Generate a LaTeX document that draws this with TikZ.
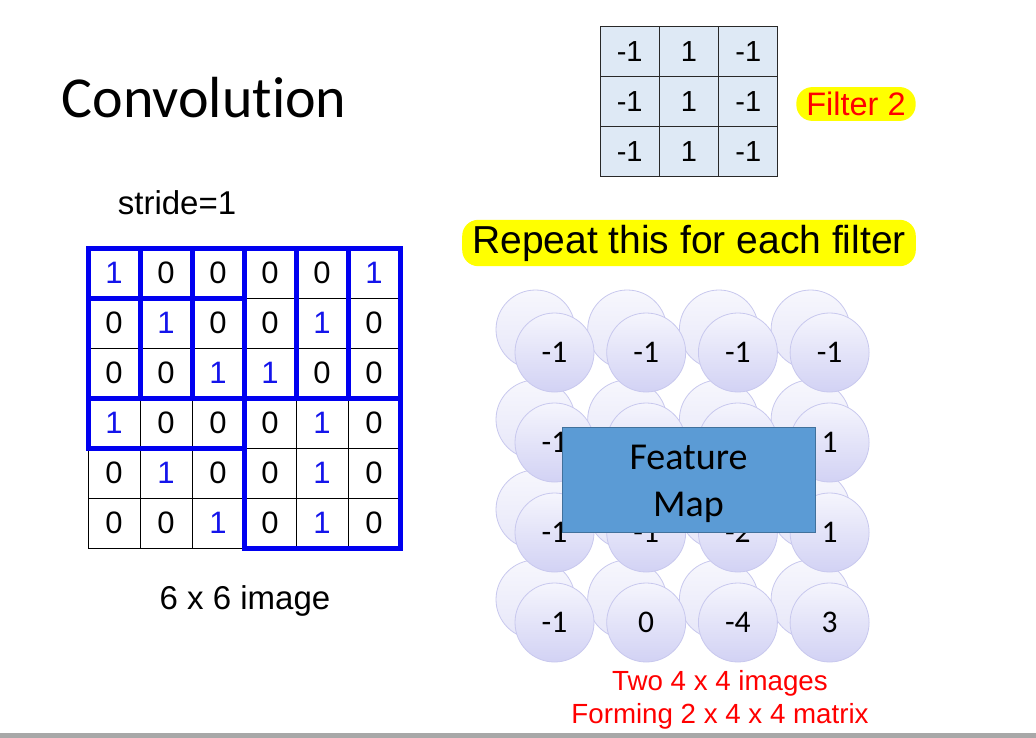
\documentclass[tikz,border=0pt]{standalone}
\usepackage{fontspec}
\setmainfont{Liberation Sans}
\newfontfamily\calib[Ligatures={NoCommon,NoContextual}]{Carlito}
\definecolor{oneblue}{RGB}{20,20,235}
\definecolor{winblue}{RGB}{0,0,240}
\definecolor{filfill}{RGB}{222,233,245}
\definecolor{filedge}{RGB}{40,40,40}
\definecolor{circedge}{RGB}{200,200,238}
\definecolor{circtop}{RGB}{245,245,253}
\definecolor{circbot}{RGB}{210,210,244}
\definecolor{backtop}{RGB}{247,247,253}
\definecolor{backbot}{RGB}{230,230,248}
\definecolor{fmfill}{RGB}{91,155,213}
\definecolor{fmedge}{RGB}{65,113,156}
\definecolor{hl}{RGB}{255,255,0}
\definecolor{redtxt}{RGB}{255,0,0}
\definecolor{bargray}{RGB}{168,168,168}
\begin{document}
\begin{tikzpicture}[x=1pt,y=-1pt,
  cell/.style={draw=black, line width=0.8pt, minimum width=52pt, minimum height=50pt, inner sep=0pt, outer sep=0pt, font=\fontsize{31}{33}\selectfont},
  win/.style={draw=winblue, line width=5pt},
  fcell/.style={draw=filedge, line width=1pt, fill=filfill, minimum width=59.3pt, minimum height=50pt, inner sep=0pt, outer sep=0pt, font=\fontsize{29}{31}\selectfont},
  hlbox/.style={fill=hl, rounded corners=16pt, inner xsep=10pt, inner ysep=5pt},
  backc/.style={circle, draw=circedge, line width=0.8pt, top color=backtop, bottom color=backbot, minimum size=79pt, inner sep=0pt},
  frontc/.style={circle, draw=circedge, line width=0.8pt, top color=circtop, bottom color=circbot, minimum size=79pt, inner sep=0pt, font=\calib\fontsize{31.5}{33}\selectfont},
  plain/.style={inner sep=0pt}
]
\useasboundingbox (0,0) rectangle (1036,738);
\fill[white] (0,0) rectangle (1036,738);
\fill[bargray] (0,733) rectangle (1036,738);

% title
\node[plain, font=\calib\fontsize{58}{60}\selectfont] (title) at (204,98) {Convolution};
\node[plain, font=\fontsize{33}{35}\selectfont] (stride) at (177,203) {stride=1};
\node[plain, font=\fontsize{33}{35}\selectfont] (imgcap) at (245,601) {6 x 6 image};

% 6x6 image
\foreach \r/\row in {0/{1,0,0,0,0,1},1/{0,1,0,0,1,0},2/{0,0,1,1,0,0},3/{1,0,0,0,1,0},4/{0,1,0,0,1,0},5/{0,0,1,0,1,0}}{
  \foreach \v [count=\c from 0] in \row {
    \ifnum\v=1 \def\tc{oneblue}\else\def\tc{black}\fi
    \node[cell, text=\tc] (c-\r-\c) at ({114+52*\c},{273+50*\r}) {\v};
  }
}
\draw[win] (c-0-0.north west) rectangle (c-2-2.south east);
\draw[win] (c-0-1.north west) rectangle (c-2-3.south east);
\draw[win] (c-0-2.north west) rectangle (c-2-4.south east);
\draw[win] (c-0-3.north west) rectangle (c-2-5.south east);
\draw[win] (c-1-0.north west) rectangle (c-3-2.south east);
\draw[win] (c-3-3.north west) rectangle (c-5-5.south east);

% filter 2
\foreach \r in {0,1,2}{
  \foreach \v [count=\c from 0] in {-1,1,-1}{
    \node[fcell] (f-\r-\c) at ({629.65+59.3*\c},{52+50*\r}) {\v};
  }
}
\node[hlbox, text=redtxt, font=\fontsize{32.5}{34}\selectfont] (fname) at (856,104) {Filter 2};

\node[hlbox, font=\fontsize{39}{42}\selectfont] (repeat) at (689,243) {Repeat this for each filter};

% feature maps
\foreach \r in {0,...,3}{
  \foreach \c in {0,...,3}{
    \node[backc] (b-\r-\c) at ({535.5+91.7*\c},{329.5+90*\r}) {};
  }
}
\foreach \r/\row in {0/{-1,-1,-1,-1},1/{-1,{},{},1},2/{-1,-1,-2,1},3/{-1,0,-4,3}}{
  \foreach \v [count=\c from 0] in \row {
    \node[frontc] (m-\r-\c) at ({554.5+91.7*\c},{352.5+90*\r}) {\v};
  }
}
\node[draw=fmedge, line width=1pt, fill=fmfill, minimum width=253pt, minimum height=105pt, inner sep=0pt] (fm) at (688.5,479.5) {};
\node[plain, align=center, font=\calib\fontsize{38}{47}\selectfont] (fmtext) at ([yshift=-4pt]fm.center) {Feature\\Map};

\node[plain, text=redtxt, align=center, font=\fontsize{27.7}{33}\selectfont] (note) at (720,700) {Two 4 x 4 images\\Forming 2 x 4 x 4 matrix};
\end{tikzpicture}
\end{document}
